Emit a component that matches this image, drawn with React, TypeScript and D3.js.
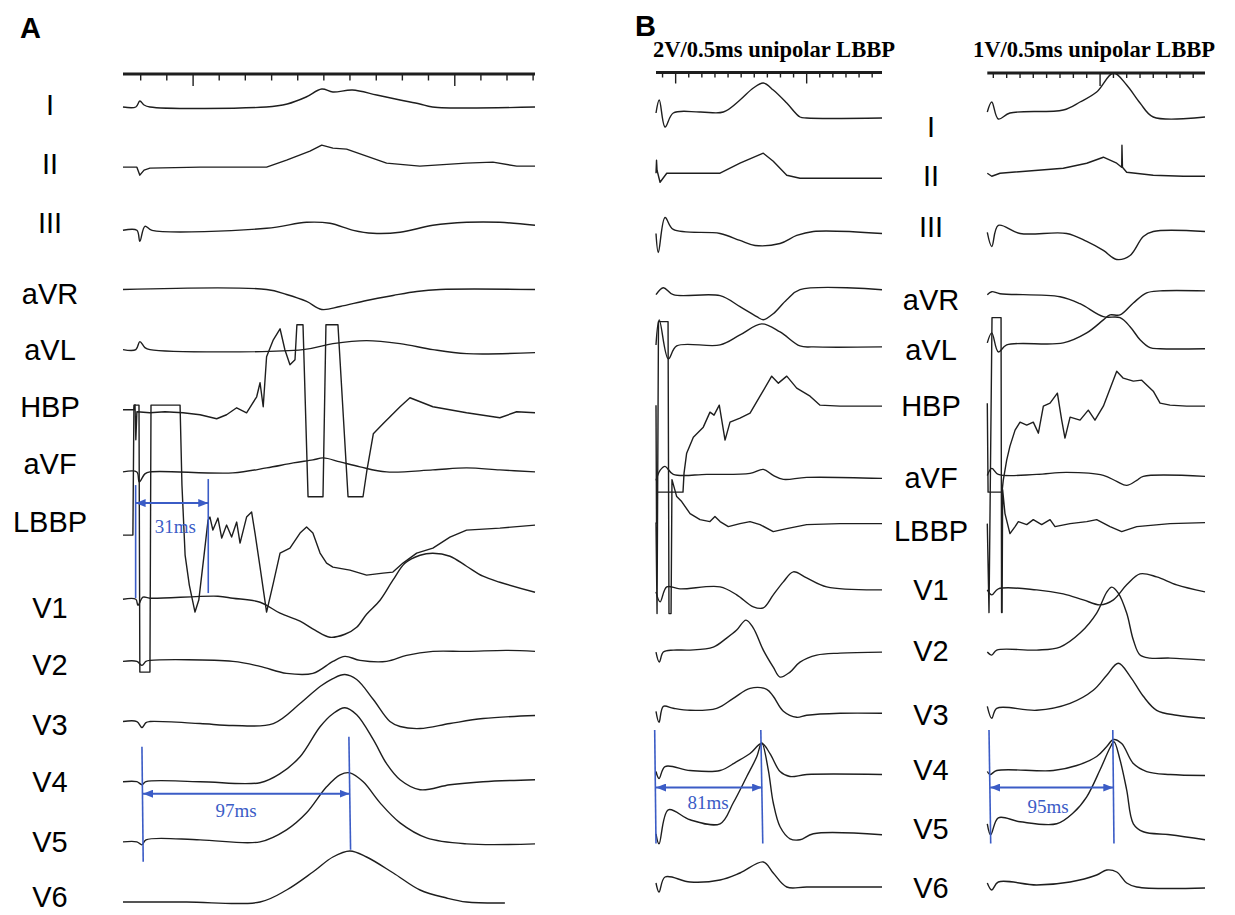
import React from "react";
import * as d3 from "d3";

const W = 1235;
const H = 915;

const leads = ["I", "II", "III", "aVR", "aVL", "HBP", "aVF", "LBBP", "V1", "V2", "V3", "V4", "V5", "V6"];

// ruler ticks, ms
const ticksA = [-0.6, 11.8, 24.3, 36.7, 49.1, 61.6, 74, 86.4, 98.8, 111.3, 123.7, 136.1, 148.6, 161, 173.4, 185.8];
const longTicksA = [24.3, 148.6];
const ticksB1 = [5, 15, 25, 35, 45, 55, 65, 75, 85, 95, 105, 115, 125, 135, 145, 155, 165];
const longTicksB1 = [15, 115];
const ticksB2 = [2.9, 13.1, 23.3, 33.4, 43.6, 53.8, 64, 74.2, 84.4, 94.6, 104.7, 114.9, 125, 135.2, 145.4, 155.5];
const longTicksB2 = [84.4];

// traces: [time ms, amplitude mm] (10 mm = 1 mV), 0 = row baseline
// --- panel A ---
const aI = [[-9, 0], [-2.9, 0], [-1, 0.6], [1, 0.2], [3.8, 0], [59, 0], [69, 0.3], [78, 1.0], [85.4, 1.8], [90.7, 1.5], [100, 1.7], [111.5, 1.2], [122.6, 0.7], [132, 0.3], [138, 0], [186.7, 0]];
const aII = [[-9, 0.1], [-2.4, 0.1], [-1, -0.7], [1, -0.2], [3.8, 0], [27.6, 0.1], [59.2, 0.1], [68.7, 0.8], [79.8, 1.7], [85.4, 2.3], [90.7, 2.0], [97.2, 1.9], [106.7, 1.2], [116.2, 0.5], [132, 0.2], [154, 0.5], [166.7, 0.6], [178, 0.2], [186.7, 0.2]];
const aIII = [[-9, -0.1], [-2.4, -0.1], [-1, -1.2], [1.4, 0.3], [4.8, -0.1], [59.2, 0.1], [78.2, 0.7], [89.3, 0.6], [100.4, -0.1], [109.7, -0.4], [122.6, -0.3], [138.2, 0.4], [154.2, 0.7], [170, 0.7], [186.7, 0.4]];
const aAVR = [[-9, 0.1], [59.2, 0.1], [68.7, -0.4], [78.2, -1.1], [85.4, -1.9], [94.1, -1.6], [106.7, -1.0], [119.3, -0.5], [130.5, -0.1], [141.6, 0.1], [186.7, 0.1]];
const aAVL = [[-9, 0.2], [-2.9, 0.2], [-1, 1.0], [1.4, 0.4], [3.8, 0.2], [76.5, 0.2], [90.7, 0.8], [106.7, 1.1], [122.6, 0.8], [138.2, 0.2], [154.2, -0.2], [186.7, -0.1]];
const aHBP = [[-9, 0.3], [-3.8, 0.3], [-3.3, 0.8], [-2.9, -2.7], [-2.4, 0.1], [3.8, 0], [10.9, 0.1], [19.5, 0], [27.6, -0.2], [35.5, -0.6], [40.2, -0.2], [45, 0.5], [49.7, 0], [54.5, 1.6], [56.1, 3.0], [57.6, 0.6], [59.2, 5.6], [62.4, 7.3], [65.6, 8.4], [67.9, 6.3], [70.3, 4.8], [72.7, 5.3], [73.6, 8.8], [76.5, 8.8], [78.9, -8.4], [86, -8.4], [87.4, 8.8], [93.1, 8.8], [97.9, -8.4], [105, -8.4], [106.9, -5.7], [109.9, -2.1], [114.5, -1.1], [122.6, 0.6], [127.3, 1.5], [138.2, 0.6], [154.2, 0], [170, -0.5], [178, 0.1], [186.7, 0]];
const aAVF = [[-9, 0.2], [-2.4, 0.2], [-1.3, -0.8], [1.4, 0], [3.8, 0.2], [43.2, 0.1], [59.2, 0.6], [71.9, 1.1], [81.2, 1.4], [86.1, 1.6], [94.1, 1.2], [103.6, 0.7], [116.2, 0.2], [138.2, 0.4], [154.2, 0.6], [170, 0.4], [186.7, 0.2]];
const aLBBP = [[-9, 0], [-4.3, 0], [-3.8, 13], [-1.4, 13], [-1, -13.7], [3.8, -13.7], [4.3, 13], [18.1, 13], [19, 5], [20.5, -2], [22.5, -5], [25.2, -7.7], [27, -6.5], [29.5, -2], [31.4, 1.5], [32.3, 1.8], [33.7, 0.5], [36.1, 1.7], [37.9, -0.3], [40.2, 1.0], [42.6, -0.2], [45, 1.3], [46.6, -0.8], [49.7, 1.8], [52.1, 2.3], [53.7, 0.2], [56.1, -3.2], [59.2, -7.7], [62.4, -4.8], [65.6, -1.8], [70.3, -1.3], [75.1, 0.2], [78.2, 0.8], [81.2, 0.2], [84.6, -1.8], [87.7, -2.8], [90.7, -3.2], [98.8, -3.5], [106.7, -4], [114.5, -3.8], [119.2, -3.7], [124, -2.8], [130.5, -1.8], [138.2, -1.3], [146.3, -0.2], [154.2, 0.5], [170, 0.7], [186.7, 1.0]];
const aV1 = [[-9, -0.3], [-2.9, -0.3], [-1.9, -0.9], [0.5, -0.1], [3.8, -0.2], [36.1, 0], [43.2, -0.2], [56.1, -0.6], [65.6, -1.7], [75.1, -2.5], [82.2, -3.4], [89.3, -4.1], [96.4, -3.8], [102, -3.1], [106.7, -1.8], [113.1, -0.4], [119.2, 1.6], [124.9, 3.3], [132.1, 4.1], [138.2, 4.3], [146.3, 4.0], [154.2, 3.0], [162, 2.0], [170, 1.4], [186.7, 0.4]];
const aV2 = [[-9, -0.4], [-2.4, -0.4], [0, -0.8], [1.9, -0.4], [3.8, -0.3], [43.2, -0.4], [56.1, -0.9], [68.7, -1.6], [81.2, -1.6], [90.7, -0.4], [96.4, 0.1], [103.6, -0.3], [116.2, -0.4], [125.7, 0.2], [138.2, 0.6], [154.2, 0.6], [173.3, 0.7], [186.7, 0.6]];
const aV3 = [[-9, -0.3], [-2.4, -0.3], [0, -0.9], [1.9, -0.4], [3.8, -0.3], [27.6, -0.5], [43.2, -0.7], [62.4, -0.5], [75.1, 1.5], [84.6, 3.2], [90.7, 4.0], [96.4, 4.4], [102, 3.9], [109.9, 1.9], [117.8, -0.3], [122.6, -0.8], [132.1, -1.0], [146.3, -0.5], [162, 0], [186.7, 0.3]];
const aV4 = [[-9, -0.2], [-2.4, -0.2], [0, -0.5], [1.9, -0.2], [27.6, -0.2], [56.1, -0.3], [65.6, 0.6], [75.1, 2.3], [84.6, 5.3], [90.7, 6.6], [96.4, 7.2], [102, 6.5], [109.9, 4.0], [116.2, 1.6], [122.6, 0], [132.1, -1.0], [146.3, -0.5], [162, -0.2], [186.7, 0]];
const aV5 = [[-9, -0.1], [-2.4, -0.1], [0, -0.4], [1.9, 0.1], [27.6, 0.1], [56.1, -0.1], [68.7, 1.1], [78.2, 2.8], [87.7, 5.4], [94.1, 6.6], [98.8, 6.8], [105.1, 5.9], [113.1, 3.8], [122.6, 1.8], [135.2, 0.3], [154.2, -0.3], [186.7, -0.3]];
const aV6 = [[-9, 0], [21.2, 0], [56.1, 0], [68.7, 1.2], [81.2, 3.0], [90.7, 4.5], [98.8, 5.1], [106.7, 4.5], [119.4, 2.9], [132.1, 1.2], [144.7, 0.4], [154.2, 0], [172.4, -0.1]];

// --- panel B, 2V/0.5ms ---
const b1I = [[0, 0], [2.5, 1.3], [6.9, -1.4], [13.2, 0], [33.6, 0.1], [51.4, 0.1], [64.1, 1.3], [74.3, 2.5], [81.9, 3.0], [89.5, 2.3], [99.8, 1.0], [109.9, -0.4], [115, -0.5], [172.5, -0.5]];
const b1II = [[0, -0.1], [0.4, 1.2], [0.8, 0.2], [3.1, -1.0], [8.2, -0.1], [48.9, -0.1], [64.1, 0.9], [81.9, 1.9], [89.5, 1.1], [99.8, -0.3], [109.9, -0.6], [172.5, -0.6]];
const b1III = [[0, -0.2], [1.8, -2.1], [6.9, 1.4], [13.2, 0.2], [48.9, -0.2], [64.1, -0.9], [75.6, -1.4], [94.7, -1.2], [107.4, -0.4], [120.1, 0], [172.5, -0.2]];
const b1AVR = [[0, -0.4], [5.6, 0.3], [13.2, -0.4], [48.9, -0.5], [64.1, -1.6], [76.9, -2.6], [81.9, -2.9], [89.5, -2.3], [99.8, -0.9], [109.9, 0.1], [172.5, 0.1]];
const b1AVL = [[0, 0.5], [2.5, 3.0], [9.4, -0.9], [15.8, 0.4], [48.9, 0.5], [64.1, 1.5], [80.7, 2.6], [94.7, 1.8], [109.9, 0.4], [120.1, 0.3], [172.5, 0.3]];
const b1HBP = [[0, 0.4], [0.4, -11.4], [0.8, -8.3], [20.6, -8.3], [21.4, -6.4], [23.4, -4.4], [28.5, -2.8], [36.1, -1.8], [41.2, -0.3], [44.3, -0.6], [48.3, 0.4], [52.7, -3.1], [56.5, -1.3], [64.1, -0.9], [71.8, -0.4], [79.4, 1.3], [88.3, 3.3], [93.4, 2.6], [99.8, 3.3], [107.4, 2.1], [117.6, 1.3], [125.2, 0.4], [140.5, 0.3], [172.5, 0.3]];
const b1AVF = [[0, -1.2], [3.1, -0.2], [6.9, 0.2], [13.2, -0.6], [38.7, -0.6], [71.8, -0.5], [81.9, -0.1], [89.5, -0.7], [97.2, -1.1], [115, -0.9], [172.5, -1.0]];
const b1LBBP = [[0, 0.5], [0.8, -8.6], [1.9, 20.6], [9.2, 20.6], [9.9, -8.6], [11.5, -8.6], [12.2, 4.8], [15.8, 3.1], [19.6, 2.6], [26, 1.4], [33.6, 0.8], [41.2, 0.6], [45, 1.1], [48.9, 0.6], [55.2, 0.1], [64.1, 0.4], [71.8, 0.6], [79.4, 0.3], [89.5, -0.4], [99.8, -0.1], [115, 0.3], [140.5, 0.4], [172.5, 0.4]];
const b1V1 = [[0, -0.5], [3.1, -1.5], [8.2, 0], [18.3, -0.2], [48.9, 0], [61.6, -0.8], [74.3, -2.0], [81.9, -2.1], [89.5, -0.8], [97.2, 0.5], [104.8, 1.5], [115, 0.9], [130.3, 0], [172.5, -0.3]];
const b1V2 = [[0, -0.6], [2.5, -1.6], [5.6, -0.6], [13.2, -0.4], [26, -0.4], [43.7, -0.1], [53.9, 0.8], [61.6, 1.6], [68.7, 2.6], [74.3, 1.8], [81.9, -0.4], [89.5, -2.1], [94.7, -3.1], [102.3, -2.6], [109.9, -1.6], [122.7, -0.9], [140.5, -0.7], [172.5, -0.6]];
const b1V3 = [[0, -0.6], [2.3, -1.7], [5.6, -0.1], [13.2, -0.3], [26, -0.5], [46.3, -0.3], [59, 0.7], [71.8, 1.7], [84.5, 1.6], [89.5, 0.9], [97.2, -0.6], [107.4, -1.2], [115, -1.0], [140.5, -0.8], [172.5, -0.8]];
const b1V4 = [[0, -0.7], [2.3, -1.4], [6.9, -0.2], [26, -0.6], [48.9, -0.6], [61.6, 0.3], [71.8, 1.1], [80.7, 2.1], [87, 1.1], [94.7, -0.7], [102.3, -1.2], [115, -1.0], [172.5, -1.0]];
const b1V5 = [[0, -1.0], [2.3, -2.0], [9.4, 1.4], [26, 0.4], [48.9, 0], [59, 2.1], [69.2, 4.7], [76.9, 6.7], [80.7, 8.1], [85.7, 5.4], [89.5, 2.1], [94.7, -0.3], [102.3, -1.5], [109.9, -1.6], [120.1, -1.0], [172.5, -1.1]];
const b1V6 = [[0, 0], [2.3, -0.9], [6.9, 0.6], [26, 0.1], [48.9, 0.3], [64.1, 1.0], [81.9, 2.1], [89.5, 1.0], [99.8, -0.4], [115, -0.4], [172.5, -0.4]];

// --- panel B, 1V/0.5ms ---
const b2I = [[-1.7, 0.1], [1.7, 1.1], [6.7, -0.6], [15.6, 0], [56.3, 0.3], [69.1, 1.1], [81.8, 2.1], [94.6, 4.0], [104.7, 2.8], [114.9, 1.0], [125, -0.4], [164.5, -0.4]];
const b2II = [[-1.7, -0.1], [1.7, -0.4], [8, -0.1], [56.3, 0.4], [74.2, 0.9], [86.9, 1.5], [97.1, 0.9], [100.9, 0.5], [101.1, 2.7], [101.5, 0.5], [104.7, 0], [125, -0.3], [148, -0.4], [164.5, -0.4]];
const b2III = [[-1.7, -0.1], [1.7, -1.5], [6.7, 0.6], [23.3, -0.2], [58.9, -0.2], [74.2, -1.0], [86.9, -1.9], [97.1, -2.8], [107.3, -2.4], [117.4, -0.5], [125, 0], [164.5, 0]];
const b2AVR = [[-1.7, -0.4], [1.7, -0.1], [8, -0.3], [53.8, -0.6], [69.1, -1.3], [86.9, -2.6], [99.6, -2.7], [107.3, -3.6], [114.9, -4.9], [122.5, -5.7], [130.2, -5.8], [164.5, -5.8]];
const b2AVL = [[-1.7, 0.7], [1.7, 1.7], [6.7, -0.2], [13.1, 0.5], [56.3, 0.7], [74.2, 1.7], [86.9, 3.0], [92, 3.5], [99.6, 3.5], [109.8, 4.7], [120, 5.7], [130.2, 5.9], [164.5, 5.9]];
const b2HBP = [[-1.7, 0.6], [-1.1, -8.3], [9.5, -8.3], [10.5, -7.1], [13.1, -5.1], [15.6, -3.7], [19.5, -2.1], [23.3, -1.3], [28.4, -1.6], [33.4, -1.3], [37.3, -2.4], [41.1, 0.3], [46.2, 0.6], [51.8, 1.6], [55.1, -1.1], [57.6, -2.9], [61.5, -0.8], [69.1, -1.1], [75.4, -0.1], [80.5, -1.1], [86.9, 0.3], [97.1, 3.8], [102.1, 3.1], [109.8, 2.8], [116.2, 2.9], [125, 1.8], [130.2, 0.6], [137.8, 0.4], [150.5, 0.3], [164.5, 0.3]];
const b2AVF = [[-1.7, -0.7], [1.7, 0], [6.7, -0.6], [36, -0.6], [58.9, -0.4], [86.9, -0.7], [97.1, -1.3], [104.7, -1.7], [112.4, -1.2], [117.4, -0.8], [164.5, -0.8]];
const b2LBBP = [[-1.7, 0.4], [-0.4, -8.5], [1.9, 21], [8.8, 21], [9.2, -8.5], [9.6, -8.5], [10, 3.8], [11.8, 1.4], [15.6, -0.6], [19.5, 0.1], [22, 0.6], [28.4, 0.3], [33.4, 0.8], [39.8, 0.3], [46.2, 0.8], [50, 0.1], [61.5, 0.4], [74.2, 0.6], [81.8, 0.8], [92, 0.1], [100.9, -0.4], [112.4, 0.1], [137.8, 0.4], [164.5, 0.5]];
const b2V1 = [[-1.7, -0.3], [1.7, -0.8], [6.7, -0.2], [36, -0.3], [56.3, -0.7], [71.6, -1.3], [84.4, -1.8], [94.6, -1.3], [104.7, 0.2], [114.9, 1.3], [127.6, 1.0], [142.9, 0.2], [164.5, -0.5]];
const b2V2 = [[-1.7, -0.6], [1.7, -0.9], [5.5, -0.4], [36, -0.4], [53.8, -0.1], [69.1, 1.3], [81.8, 3.3], [89.5, 5.4], [93.3, 5.9], [98.3, 5.3], [104.7, 3.3], [109.8, 0.6], [114.9, -0.9], [122.5, -1.2], [137.8, -1.2], [164.5, -1.4]];
const b2V3 = [[-1.7, -0.1], [1.7, -1.3], [5.5, -0.3], [36, -0.5], [61.5, 0.2], [79.2, 1.5], [89.5, 3.0], [98.3, 4.2], [107.3, 2.9], [117.4, 0.9], [127.6, -0.5], [142.9, -1.0], [164.5, -1.3]];
const b2V4 = [[-1.7, -0.7], [0.4, -1.0], [5.5, -0.6], [48.7, -0.6], [66.6, -0.1], [81.8, 0.8], [89.5, 1.8], [94.6, 2.5], [100.9, 2.1], [109.8, 0.1], [120, -0.7], [137.8, -1.0], [164.5, -1.1]];
const b2V5 = [[-1.7, 0], [0.9, -1.1], [6.7, 0.6], [23.3, 0.2], [51.3, 0], [64, 1.1], [74.2, 2.7], [84.4, 5.4], [92, 7.6], [95, 8.2], [99.6, 6.4], [104.7, 3.4], [109.8, 0], [117.4, -0.8], [137.8, -1.1], [164.5, -1.6]];
const b2V6 = [[-1.7, 0], [1.7, -0.7], [6.7, 0.1], [36, -0.2], [61.5, 0.1], [81.8, 0.8], [89.5, 1.3], [97.1, 1.1], [104.7, 0], [112.4, -0.4], [164.5, -0.5]];

const tracesA = [aI, aII, aIII, aAVR, aAVL, aHBP, aAVF, aLBBP, aV1, aV2, aV3, aV4, aV5, aV6];
const tracesB1 = [b1I, b1II, b1III, b1AVR, b1AVL, b1HBP, b1AVF, b1LBBP, b1V1, b1V2, b1V3, b1V4, b1V5, b1V6];
const tracesB2 = [b2I, b2II, b2III, b2AVR, b2AVL, b2HBP, b2AVF, b2LBBP, b2V1, b2V2, b2V3, b2V4, b2V5, b2V6];

// rows with saturated pacing artifacts -> straight segments
const clipped = ["HBP", "LBBP", "II"];

// interval calipers: times in ms, heights in mm from the row baseline
const calipers = [
  { panel: "A", lead: "LBBP", label: "31ms", left: [-3, -3], right: [31.5, 31.5], top: [5.0, 5.6], bottom: [-6.3, -5.8], arrow: 3.2, from: -3, to: 31.5, textAt: 15.9, textDy: 30 },
  { panel: "A", lead: "V4", label: "97ms", left: [0, 0.6], right: [98.3, 99.1], top: [3.3, 4.3], bottom: [-8.2, -7.0], arrow: -1.4, from: 0.5, to: 98.6, textAt: 44.7, textDy: 23.5 },
  { panel: "B1", lead: "V4", label: "81ms", left: [-1, 0], right: [80, 81.5], top: [3.45, 3.45], bottom: [-7.9, -7.9], arrow: -2.3, from: 0, to: 81, textAt: 39.7, textDy: 21.5 },
  { panel: "B2", lead: "V4", label: "95ms", left: [-0.4, 0.9], right: [94.1, 95], top: [3.45, 3.45], bottom: [-7.9, -7.9], arrow: -2.3, from: 0.5, to: 94.5, textAt: 44.7, textDy: 25 },
];

// label offsets from row baselines (px)
const nudgeA = [-2, -5, -7, 3, -2, -6, -10, -13, 11, 7, 6, 2, 1, -5];
const nudgeB = [14, 3, -5, 9, 0, -4, 9, 3, 3, 5, 9, 5, 5, 5];

const INK = "#1e1e1e";
const BLUE = "#3b5cc6";
const SANS = "'Liberation Sans', Arial, Helvetica, sans-serif";
const SERIF = "'Liberation Serif', 'Times New Roman', serif";

export default function App() {
  const gain = 10;
  const xA = d3.scaleLinear().domain([-9, 186.7]).range([123, 535]);
  const xB1 = d3.scaleLinear().domain([0, 172.5]).range([656, 882]);
  const xB2 = d3.scaleLinear().domain([-1.7, 164.5]).range([987.3, 1205]);
  const rowA = d3.scalePoint<string>().domain(leads).range([107, 902]);
  const rowB = d3.scalePoint<string>().domain(leads).range([113, 883]);

  const xs: Record<string, any> = { A: xA, B1: xB1, B2: xB2 };
  const rows: Record<string, any> = { A: rowA, B1: rowB, B2: rowB };

  const tracePath = (x: any, y0: number, pts: number[][], sharp: boolean) =>
    d3
      .line<number[]>()
      .x((d) => x(d[0]))
      .y((d) => y0 - d[1] * gain)
      .curve(sharp ? d3.curveLinear : d3.curveCatmullRom.alpha(0.5))(pts) || "";

  const ruler = (x: any, y: number, ticks: number[], longs: number[], short: number, long: number, key: string) => (
    <g key={key}>
      <line x1={x.range()[0]} x2={x.range()[1]} y1={y} y2={y} stroke={INK} strokeWidth={3} />
      {ticks.map((t) => (
        <line key={t} x1={x(t)} x2={x(t)} y1={y} y2={y + (longs.includes(t) ? long : short)} stroke={INK} strokeWidth={1.4} />
      ))}
    </g>
  );

  const traceGroup = (key: string, x: any, row: any, traces: number[][][]) => (
    <g key={key} fill="none" stroke={INK} strokeWidth={1.4} strokeLinejoin="round">
      {traces.map((pts, i) => (
        <path key={leads[i]} d={tracePath(x, row(leads[i]), pts, clipped.includes(leads[i]))} />
      ))}
    </g>
  );

  return (
    <div style={{ position: "absolute", left: 0, top: 0 }}>
      <svg width={W} height={H} viewBox={`0 0 ${W} ${H}`} style={{ display: "block", background: "#fff" }}>
        <defs>
          <marker id="ah" viewBox="0 0 10 8" refX="10" refY="4" markerWidth="10" markerHeight="8" markerUnits="userSpaceOnUse" orient="auto-start-reverse">
            <path d="M0,0 L10,4 L0,8 z" fill={BLUE} />
          </marker>
        </defs>

        {/* panel letters */}
        <text x={20} y={38} fontFamily={SANS} fontWeight="bold" fontSize={29} fill="#000">A</text>
        <text x={635} y={36} fontFamily={SANS} fontWeight="bold" fontSize={29} fill="#000">B</text>

        {/* titles */}
        <text x={653} y={57} fontFamily={SERIF} fontWeight="bold" fontSize={24} textLength={242} lengthAdjust="spacingAndGlyphs" fill="#000">
          2V/0.5ms unipolar LBBP
        </text>
        <text x={973} y={57} fontFamily={SERIF} fontWeight="bold" fontSize={24} textLength={242} lengthAdjust="spacingAndGlyphs" fill="#000">
          1V/0.5ms unipolar LBBP
        </text>

        {ruler(xA, 74, ticksA, longTicksA, 6.5, 12, "rA")}
        {ruler(xB1, 72.5, ticksB1, longTicksB1, 5, 11, "rB1")}
        {ruler(xB2, 73, ticksB2, longTicksB2, 5, 13, "rB2")}

        {/* lead labels */}
        <g fontFamily={SANS} fontSize={29} fill="#000" textAnchor="middle">
          {leads.map((l, i) => (
            <text key={"la" + l} x={50} y={rowA(l)! + nudgeA[i] + 10.4}>{l}</text>
          ))}
          {leads.map((l, i) => (
            <text key={"lb" + l} x={931} y={rowB(l)! + nudgeB[i] + 10.4}>{l}</text>
          ))}
        </g>

        {traceGroup("tA", xA, rowA, tracesA)}
        {traceGroup("tB1", xB1, rowB, tracesB1)}
        {traceGroup("tB2", xB2, rowB, tracesB2)}

        {/* calipers */}
        {calipers.map((c) => {
          const x = xs[c.panel];
          const y0 = rows[c.panel](c.lead);
          const ay = y0 - c.arrow * gain;
          return (
            <g key={c.label} stroke={BLUE}>
              <line x1={x(c.left[0])} x2={x(c.left[1])} y1={y0 - c.top[0] * gain} y2={y0 - c.bottom[0] * gain} strokeWidth={1.6} />
              <line x1={x(c.right[0])} x2={x(c.right[1])} y1={y0 - c.top[1] * gain} y2={y0 - c.bottom[1] * gain} strokeWidth={1.6} />
              <line x1={x(c.from)} x2={x(c.to)} y1={ay} y2={ay} strokeWidth={2} markerStart="url(#ah)" markerEnd="url(#ah)" />
              <text x={x(c.textAt)} y={ay + c.textDy} stroke="none" fill={BLUE} fontFamily={SERIF} fontSize={19} textAnchor="middle">
                {c.label}
              </text>
            </g>
          );
        })}
      </svg>
    </div>
  );
}
